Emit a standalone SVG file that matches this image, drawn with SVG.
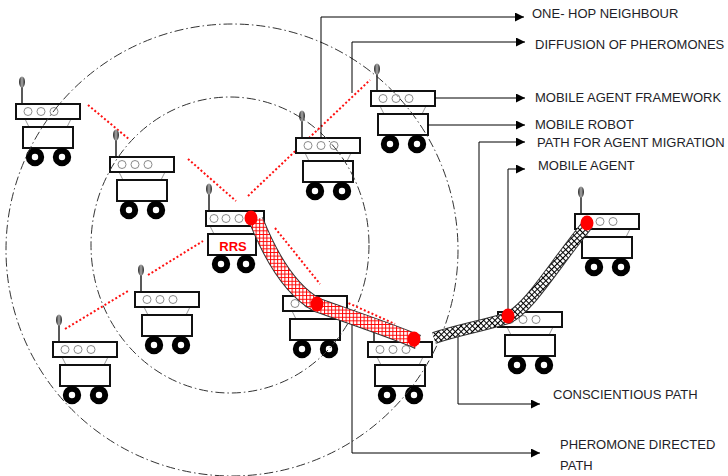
<svg xmlns="http://www.w3.org/2000/svg" xmlns:xlink="http://www.w3.org/1999/xlink" width="728" height="476" viewBox="0 0 728 476">
  <style>
    .label { font-family: "Liberation Sans", Arial, sans-serif; font-size: 13px; fill: #1e1e28; }
    .lead { fill: none; stroke: #000; stroke-width: 1; }
    .radio { fill: none; stroke: #ff1010; stroke-width: 2; stroke-dasharray: 2 2.2; }
    .range { fill: none; stroke: #333; stroke-width: 1; stroke-dasharray: 9 3 1.5 3; }
    .box { fill: #fff; stroke: #111; stroke-width: 2; }
    .led { fill: #fff; stroke: #8a8a8a; stroke-width: 1; }
    .neck { fill: none; stroke: #9a9a9a; stroke-width: 1; }
    .wheel { fill: #fff; stroke: #000; stroke-width: 6; }
    .stem { stroke: #222; stroke-width: 1.5; }
    .agent { fill: #ff0000; }
  </style>
  <defs>
    <linearGradient id="antGrad" x1="0" y1="0" x2="1" y2="0">
      <stop offset="0" stop-color="#222"/>
      <stop offset="0.5" stop-color="#aaa"/>
      <stop offset="1" stop-color="#222"/>
    </linearGradient>
    <pattern id="redGrid" width="3.6" height="3.6" patternUnits="userSpaceOnUse">
      <rect width="3.6" height="3.6" fill="#fff"/>
      <path d="M0 0.5H3.6M0.5 0V3.6" stroke="#ff0000" stroke-width="1"/>
    </pattern>
    <pattern id="blackGrid" width="4" height="4" patternUnits="userSpaceOnUse" patternTransform="rotate(45)">
      <rect width="4" height="4" fill="#fff"/>
      <path d="M0 0.5H4M0.5 0V4" stroke="#000" stroke-width="1.1"/>
    </pattern>
    <marker id="arrow" viewBox="0 0 10 10" refX="10" refY="5" markerWidth="9" markerHeight="9" markerUnits="userSpaceOnUse" orient="auto">
      <path d="M0 0L10 5L0 10Z" fill="#000"/>
    </marker>
    <!-- robot body without antenna, origin at the top-left corner of its head -->
    <g id="chassis">
      <path class="neck" d="M9 15L13 23M55 15L51 23"/>
      <rect class="box" x="0" y="0" width="64" height="15"/>
      <circle class="led" cx="12" cy="7.5" r="4"/>
      <circle class="led" cx="25" cy="7.5" r="4"/>
      <circle class="led" cx="38" cy="7.5" r="4"/>
      <rect class="box" x="7" y="23" width="50" height="21"/>
      <circle class="wheel" cx="19" cy="53" r="6.2"/>
      <circle class="wheel" cx="46" cy="53" r="6.2"/>
    </g>
    <!-- full robot with its antenna -->
    <g id="robot">
      <line class="stem" x1="6" y1="-17" x2="6" y2="0"/>
      <ellipse cx="6" cy="-22" rx="3" ry="5.5" fill="url(#antGrad)"/>
      <use xlink:href="#chassis"/>
    </g>
  </defs>

  <rect width="728" height="476" fill="#fff"/>

  <!-- radio links between neighbouring robots -->
  <g id="radio-links">
    <path class="radio" d="M88 105L130 140"/>
    <path class="radio" d="M188 159L236 201"/>
    <path class="radio" d="M248 196L370 80"/>
    <path class="radio" d="M148 275L203 241"/>
    <path class="radio" d="M65 329L128 291"/>
    <path class="radio" d="M275 228L320 284"/>
    <path class="radio" d="M337 298L395 324"/>
  </g>

  <!-- robots -->
  <g id="robot-a"><use xlink:href="#robot" transform="translate(16 104)"/></g>
  <g id="robot-b"><use xlink:href="#robot" transform="translate(110 157)"/></g>
  <g id="robot-c"><use xlink:href="#robot" transform="translate(296 138)"/></g>
  <g id="robot-d"><use xlink:href="#robot" transform="translate(371 91)"/></g>
  <g id="robot-e"><use xlink:href="#robot" transform="translate(135 292)"/></g>
  <g id="robot-f"><use xlink:href="#robot" transform="translate(53 342)"/></g>
  <g id="robot-g"><use xlink:href="#chassis" transform="translate(283 296)"/></g>
  <g id="robot-h">
    <line class="stem" x1="374" y1="328" x2="374" y2="342"/>
    <use xlink:href="#chassis" transform="translate(368 342)"/>
  </g>
  <g id="robot-i"><use xlink:href="#robot" transform="translate(575 214)"/></g>
  <g id="robot-j"><use xlink:href="#chassis" transform="translate(498 312)"/></g>
  <g id="robot-rrs">
    <line class="stem" x1="209" y1="194" x2="209" y2="211"/>
    <ellipse cx="209" cy="189" rx="3" ry="5.5" fill="url(#antGrad)"/>
    <path class="neck" d="M210 226L214 234M259 226L254 234"/>
    <rect class="box" x="206" y="211" width="58" height="15"/>
    <circle class="led" cx="214" cy="218.5" r="4"/>
    <circle class="led" cx="226" cy="218.5" r="4"/>
    <circle class="led" cx="239" cy="218.5" r="4"/>
    <rect class="box" x="208" y="234" width="48" height="21"/>
    <text x="233" y="251" text-anchor="middle" font-family="Liberation Sans, Arial, sans-serif" font-size="13" font-weight="bold" fill="#ff0000">RRS</text>
    <circle class="wheel" cx="221" cy="264" r="6.2"/>
    <circle class="wheel" cx="246" cy="264" r="6.2"/>
  </g>

  <!-- communication ranges -->
  <g id="ranges">
    <circle class="range" cx="232" cy="250" r="226"/>
    <ellipse class="range" cx="230" cy="245" rx="139" ry="148"/>
  </g>

  <!-- leader lines to the legend -->
  <g id="connectors">
    <path class="lead" d="M321 138V17H524" marker-end="url(#arrow)"/>
    <path class="lead" d="M352 93V42H525" marker-end="url(#arrow)"/>
    <path class="lead" d="M435 98H525" marker-end="url(#arrow)"/>
    <path class="lead" d="M428 125H525" marker-end="url(#arrow)"/>
    <path class="lead" d="M479 325V142H525" marker-end="url(#arrow)"/>
    <path class="lead" d="M508 312V169H525" marker-end="url(#arrow)"/>
    <path class="lead" d="M458 334V404H540" marker-end="url(#arrow)"/>
    <path class="lead" d="M352 313V453H540" marker-end="url(#arrow)"/>
  </g>

  <!-- migration paths -->
  <g id="pheromone-path">
    <path d="M256 220C270 255 290 290 317 305C345 315 395 332 418 342" stroke="#333" stroke-width="15" fill="none"/>
    <path d="M256 220C270 255 290 290 317 305C345 315 395 332 418 342" stroke="url(#redGrid)" stroke-width="13" fill="none"/>
  </g>
  <g id="conscientious-path">
    <path d="M434 338C458 330 482 326 508 318C530 307 552 268 588 224" stroke="#333" stroke-width="12" fill="none"/>
    <path d="M434 338C458 330 482 326 508 318C530 307 552 268 588 224" stroke="url(#blackGrid)" stroke-width="10" fill="none"/>
  </g>

  <!-- mobile agents -->
  <g id="agents">
    <ellipse class="agent" cx="251" cy="218" rx="6.5" ry="7.5"/>
    <ellipse class="agent" cx="317" cy="304" rx="6.5" ry="7.5"/>
    <ellipse class="agent" cx="414" cy="339" rx="6.5" ry="7.5"/>
    <ellipse class="agent" cx="508" cy="316" rx="6.5" ry="7.5"/>
    <ellipse class="agent" cx="587" cy="223" rx="6.5" ry="7.5"/>
  </g>

  <!-- legend -->
  <g id="legend">
    <text class="label" x="532" y="18">ONE- HOP NEIGHBOUR</text>
    <text class="label" x="535" y="49">DIFFUSION OF PHEROMONES</text>
    <text class="label" x="535" y="102">MOBILE AGENT FRAMEWORK</text>
    <text class="label" x="535" y="129">MOBILE ROBOT</text>
    <text class="label" x="537" y="147">PATH FOR AGENT MIGRATION</text>
    <text class="label" x="538" y="170">MOBILE AGENT</text>
    <text class="label" x="553" y="399">CONSCIENTIOUS PATH</text>
    <text class="label" x="560" y="449">PHEROMONE DIRECTED</text>
    <text class="label" x="560" y="470">PATH</text>
  </g>
</svg>
